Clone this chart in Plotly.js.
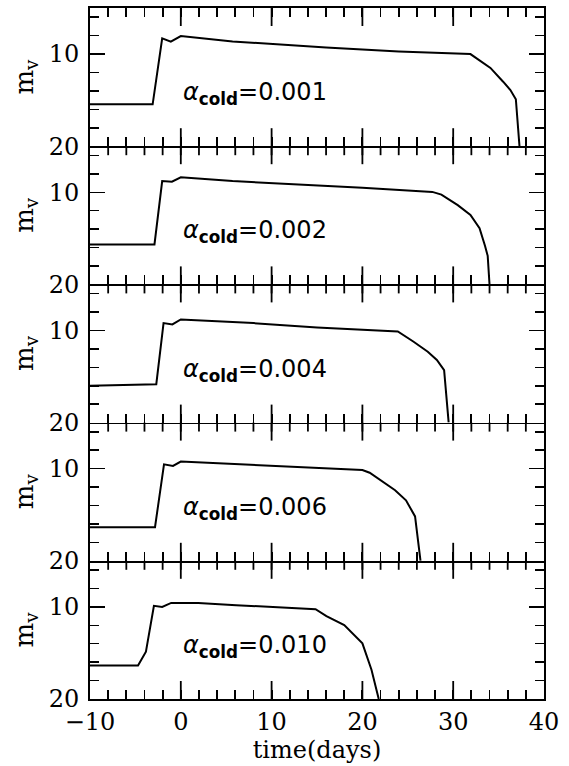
<!DOCTYPE html>
<html>
<head>
<meta charset="utf-8">
<script src="https://cdn.plot.ly/plotly-3.0.1.min.js"></script>
<style>html,body{margin:0;padding:0;background:#fff;}#chart{width:569px;height:766px;}</style>
</head>
<body>
<div id="chart"></div>
<script>
// alpha_cold labels, top to bottom
const alphaLabels = ["0.001", "0.002", "0.004", "0.006", "0.010"];

// x ticks (every 2 days, labelled every 10) and long ticks every 10 days
const xTickVals = [-10, -8, -6, -4, -2, 0, 2, 4, 6, 8, 10, 12, 14, 16, 18, 20, 22, 24, 26, 28, 30, 32, 34, 36, 38, 40];
const xTickText = ["\u221210", "", "", "", "", "0", "", "", "", "", "10", "", "", "", "", "20", "", "", "", "", "30", "", "", "", "", "40"];
const xMajorVals = [0, 10, 20, 30];

// time (days) and visual magnitude m_v for each panel
const days001 = [-10, -3.1, -2.05, -1.1, 0, 5.7, 16, 24, 31.9, 34.1, 35.5, 36.3, 36.9, 37.3];
const mags001 = [15.45, 15.45, 8.3, 8.66, 8.04, 8.63, 9.28, 9.72, 10.0, 11.5, 13.0, 13.9, 14.9, 20];

const days002 = [-10, -2.9, -2.05, -0.98, 0, 5.7, 20, 27.7, 28.7, 30.5, 31.9, 32.9, 33.5, 33.8, 34.0];
const mags002 = [15.66, 15.66, 8.79, 8.85, 8.38, 8.79, 9.5, 9.96, 10.25, 11.4, 12.45, 13.9, 15.8, 16.9, 20];

const days004 = [-10, -2.7, -1.9, -0.93, 0, 8.0, 15, 23.9, 25.6, 27.2, 28.2, 29.0, 29.5];
const mags004 = [16.0, 15.83, 9.2, 9.35, 8.8, 9.2, 9.67, 10.1, 11.2, 12.3, 13.2, 14.3, 20];

const days006 = [-10, -2.84, -1.85, -0.86, 0, 6.1, 20.0, 20.8, 22.0, 23.6, 24.8, 25.8, 26.4];
const mags006 = [16.35, 16.35, 9.53, 9.71, 9.23, 9.49, 10.15, 10.44, 11.24, 12.34, 13.43, 15.18, 20];

const days010 = [-10, -4.71, -3.84, -2.96, -2.05, -1.06, 1.93, 6.1, 14.84, 16.04, 18.0, 20.0, 21.0, 21.8];
const mags010 = [16.37, 16.37, 14.86, 9.89, 10.0, 9.57, 9.57, 9.82, 10.25, 11.0, 11.98, 13.96, 16.83, 20];

const panelDays = [days001, days002, days004, days006, days010];
const panelMags = [mags001, mags002, mags004, mags006, mags010];

const serif = "DejaVu Serif";
const ink = "#000";
const nP = panelDays.length;
const traces = [];
const layout = {
  width: 569, height: 766,
  margin: {l: 90, r: 25, t: 8, b: 67},
  paper_bgcolor: "#fff", plot_bgcolor: "rgba(0,0,0,0)",
  showlegend: false,
  annotations: [],
  shapes: []
};

// tick marks drawn against the axis scale, fixed pixel length from a panel edge
function edgeTicks(xs, vals, edge, len) {
  vals.forEach(function (v) {
    layout.shapes.push({
      type: "line", layer: "above",
      xref: "x" + xs, yref: "y" + xs + " domain",
      x0: v, x1: v,
      ysizemode: "pixel", yanchor: edge,
      y0: 0, y1: edge === 1 ? -len : len,
      line: {color: ink, width: 1.8}
    });
  });
}

for (let i = 0; i < nP; i++) {
  const k = i + 1;
  const xs = k === 1 ? "" : String(k);
  traces.push({
    x: panelDays[i], y: panelMags[i],
    xaxis: "x" + xs, yaxis: "y" + xs,
    mode: "lines", line: {color: ink, width: 2},
    hoverinfo: "skip"
  });
  const top = 1 - i / nP, bot = 1 - (i + 1) / nP;
  const xa = {
    domain: [0, 1], anchor: "y" + xs,
    range: [-10, 40],
    tickmode: "array", tickvals: xTickVals, ticktext: xTickText,
    ticks: "inside", ticklen: 9, tickwidth: 1.8, tickcolor: ink,
    showline: true, linewidth: 1.8, linecolor: ink, mirror: i === 0 ? "allticks" : false,
    showgrid: false, zeroline: false,
    showticklabels: i === nP - 1,
    tickfont: {family: serif, size: 24, color: ink}
  };
  if (i === nP - 1) {
    xa.title = {text: "time(days)", font: {family: serif, size: 24, color: ink}, standoff: 6};
  }
  layout["xaxis" + xs] = xa;

  // long ticks at bottom and top, short ticks along the top edge
  edgeTicks(xs, xMajorVals, 0, 18);
  edgeTicks(xs, xMajorVals, 1, 18);
  if (i > 0) edgeTicks(xs, xTickVals.slice(1, -1), 1, 9);

  layout["yaxis" + xs] = {
    domain: [bot, top], anchor: "x" + xs,
    range: [20, 5],
    tickmode: "linear", tick0: 0, dtick: 10,
    ticks: "inside", ticklen: 15, tickwidth: 1.5, tickcolor: ink,
    showline: true, linewidth: 1.8, linecolor: ink, mirror: "allticks",
    showgrid: false, zeroline: false,
    ticklabelstandoff: 4,
    tickfont: {family: serif, size: 24, color: ink},
    minor: {tickmode: "linear", tick0: 0, dtick: 2, ticks: "inside", ticklen: 9, tickwidth: 1.5, tickcolor: ink, showgrid: false},
    title: {text: "m<sub>v</sub>", font: {family: serif, size: 26, color: ink}, standoff: 8}
  };
  layout.annotations.push({
    xref: "x" + xs, yref: "y" + xs,
    x: 0.0, y: 14.3, xanchor: "left", yanchor: "middle",
    showarrow: false,
    text: "<i>α</i><sub><b>cold</b></sub>=" + alphaLabels[i],
    font: {family: "DejaVu Sans", size: 24, color: ink}
  });
}

Plotly.newPlot("chart", traces, layout, {staticPlot: true, displayModeBar: false});
</script>
</body>
</html>
